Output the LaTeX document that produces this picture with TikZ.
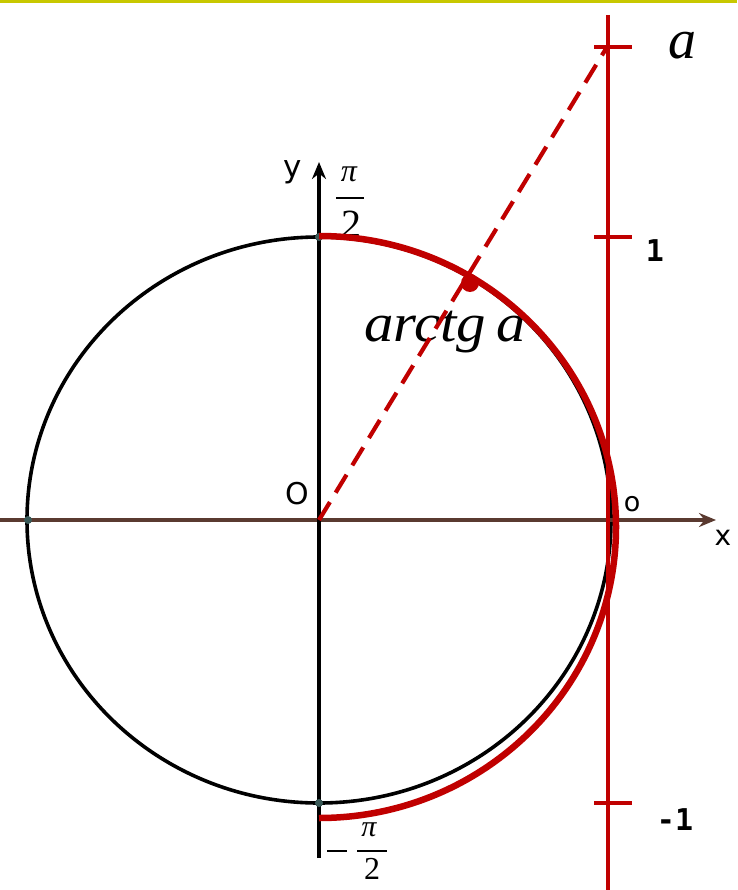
\documentclass[tikz,border=0pt]{standalone}
\usepackage{fontspec}
\setmainfont{Liberation Serif}
\newfontfamily\axfont{DejaVu Sans}
\newfontfamily\numfont{DejaVu Sans Mono}
\usetikzlibrary{arrows.meta}
\definecolor{myred}{HTML}{C00000}
\definecolor{axbrown}{HTML}{5A3A30}
\definecolor{dotc}{HTML}{3A5A58}
\definecolor{topbar}{HTML}{C8C800}
\begin{document}
\begin{tikzpicture}[x=1pt,y=-1pt,
  circ/.style={black,line width=3.6pt},
  redarc/.style={myred,line width=6.5pt},
  redline/.style={myred,line width=3.3pt},
  tick/.style={myred,line width=3.3pt},
  dashline/.style={myred,line width=4.2pt,dash pattern=on 21pt off 11pt},
  lbl/.style={inner sep=0pt},
  fracbar/.style={black,line width=1.6pt},
  smalldot/.style={circle,fill=dotc,inner sep=0pt,minimum size=8pt}]
\useasboundingbox (0,0) rectangle (737,890);
\fill[topbar] (0,0) rectangle (737,3);
% coordinates
\coordinate (O) at (319,520);
\coordinate (T) at (607,47);
\coordinate (P) at (470,283);
% labels (drawn first, lines pass over them)
\node[lbl,font=\fontsize{56}{60}\selectfont\itshape] (la) at (682,46) {a};
\node[lbl,font=\fontsize{54}{60}\selectfont\itshape,anchor=base west,xscale=1.09] (arc) at (364,341) {arctg\,a};
\node[lbl,font=\numfont\bfseries\fontsize{30}{34}\selectfont] (one) at (655,251) {1};
\node[lbl,font=\numfont\bfseries\fontsize{30}{34}\selectfont] (mone) at (675,820) {-1};
\node[lbl,font=\axfont\fontsize{31}{34}\selectfont] (ly) at (293,172) {y};
\node[lbl,font=\axfont\fontsize{30}{34}\selectfont] (lO) at (297,494) {O};
\node[lbl,font=\axfont\fontsize{27}{32}\selectfont] (lo) at (632,504) {o};
\node[lbl,font=\axfont\fontsize{28}{32}\selectfont] (lx) at (723,538) {x};
% pi/2 top
\node[lbl,font=\fontsize{32}{36}\selectfont\itshape] (pit) at (349,174) {π};
\draw[fracbar] (336,198) -- (364,198);
\node[lbl,font=\fontsize{40}{44}\selectfont] (twot) at (351,224) {2};
% -pi/2 bottom
\draw[fracbar] (327,851) -- (347,851);
\node[lbl,font=\fontsize{30}{34}\selectfont\itshape] (pib) at (369,830) {π};
\draw[fracbar] (357,851) -- (387,851);
\node[lbl,font=\fontsize{32}{36}\selectfont] (twob) at (372,869) {2};
% circle
\draw[circ] (O) ellipse [x radius=292, y radius=283];
% axes
\draw[axbrown,line width=3.2pt,-{Stealth[length=17pt,width=14pt]}] (0,520) -- (716,520);
\draw[black,line width=3.2pt,-{Stealth[length=17pt,width=14pt]}] (319,858) -- (319,162);
% small dots
\node[smalldot] (d1) at (319,237) {};
\node[smalldot] (d2) at (28,520) {};
\node[smalldot] (d3) at (319,803) {};
% tangent line
\draw[redline] (608,15) -- (608,890);
\draw[tick] (594,47) -- (632,47);
\draw[tick] (594,237) -- (632,237);
\draw[tick] (594,803) -- (632,803);
% dashed
\draw[dashline] (O) -- (T);
% red arc
\draw[redarc] (319,236) arc[start angle=-90,end angle=90,x radius=297,y radius=291];
\fill[myred] (P) circle (9pt);
\end{tikzpicture}
\end{document}
